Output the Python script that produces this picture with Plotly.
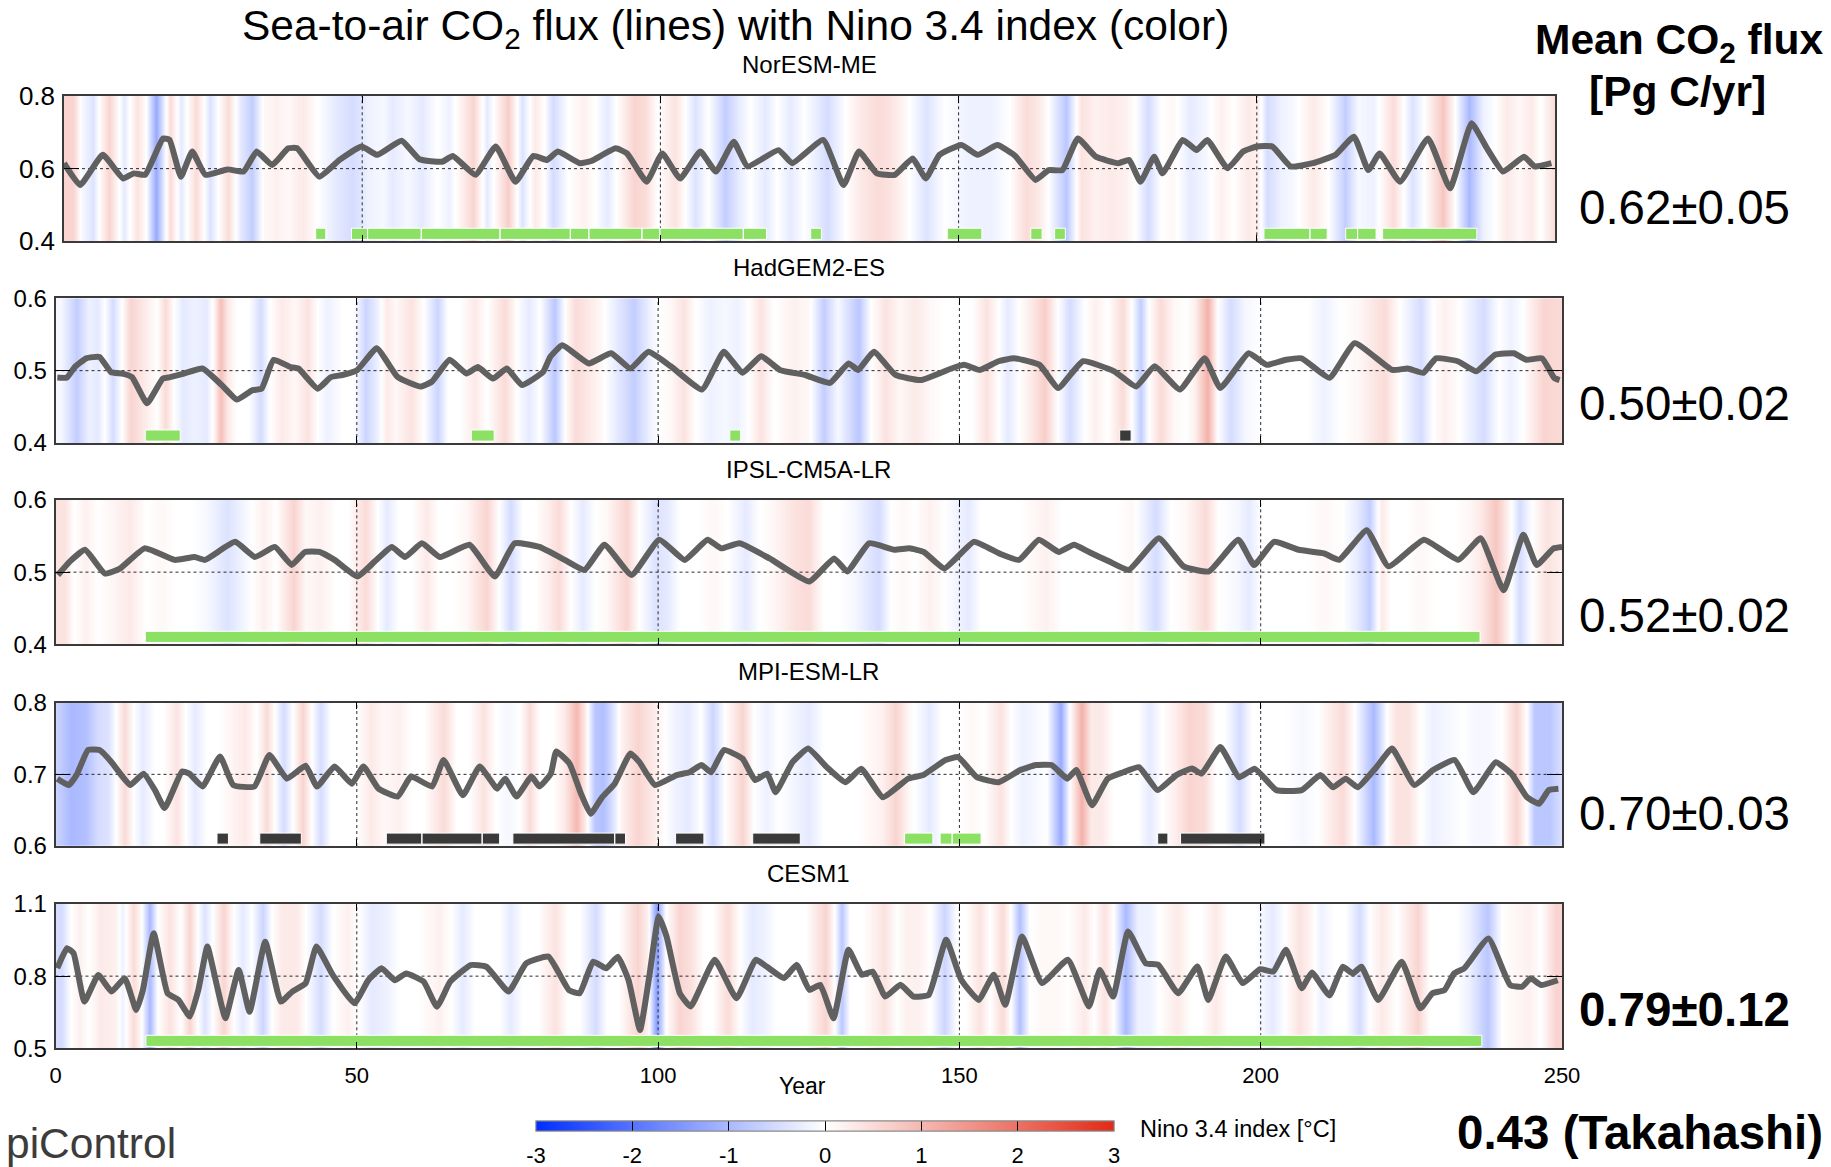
import plotly.graph_objects as go

W, H = 1831, 1167

# ---------------- data ----------------
models = ["NorESM-ME", "HadGEM2-ES", "IPSL-CM5A-LR", "MPI-ESM-LR", "CESM1"]
mean_flux = ["0.62±0.05", "0.50±0.02", "0.52±0.02", "0.70±0.03", "<b>0.79±0.12</b>"]
y_ranges = [(0.4, 0.8), (0.4, 0.6), (0.4, 0.6), (0.6, 0.8), (0.5, 1.1)]
y_ticks = [[0.4, 0.6, 0.8], [0.4, 0.5, 0.6], [0.4, 0.5, 0.6], [0.6, 0.7, 0.8], [0.5, 0.8, 1.1]]
x_ticks = [0, 50, 100, 150, 200, 250]
cbar_ticks = [-3, -2, -1, 0, 1, 2, 3]

# sea-to-air CO2 flux (year, Pg C/yr)
flux_noresm = [(0,0.615),(2.7,0.555),(6.5,0.638),(9.9,0.573),(11.7,0.587),(13.6,0.583),(16.6,0.683),(17.7,0.679),(19.6,0.578),(21.5,0.647),(23.7,0.583),(27.4,0.598),(30.1,0.592),(32.3,0.647),(34.9,0.61),(37.6,0.656),(39.1,0.656),(42.8,0.578),(46.2,0.624),(49.9,0.661),(52.5,0.638),(56.6,0.677),(59.6,0.626),(63.4,0.619),(65.2,0.635),(69.0,0.583),(72.4,0.661),(75.7,0.564),(78.7,0.635),(81.0,0.624),(82.8,0.647),(86.5,0.615),(88.4,0.621),(92.5,0.656),(94.4,0.642),(97.7,0.564),(100.3,0.642),(103.3,0.573),(106.7,0.647),(109.3,0.592),(112.3,0.674),(114.6,0.606),(119.8,0.651),(122.1,0.615),(127.3,0.679),(130.7,0.555),(133.3,0.647),(136.3,0.587),(139.3,0.583),(142.3,0.628),(144.5,0.573),(146.8,0.638),(150.5,0.665),(153.2,0.638),(156.5,0.665),(159.5,0.635),(162.9,0.569),(165.1,0.596),(167.4,0.596),(170.0,0.683),(173.0,0.633),(176.8,0.615),(178.6,0.624),(180.5,0.564),(182.8,0.633),(184.2,0.587),(187.6,0.679),(189.9,0.651),(191.7,0.679),(195.1,0.601),(197.7,0.647),(200.0,0.661),(202.6,0.661),(205.7,0.606),(209.4,0.615),(213.2,0.638),(216.3,0.688),(218.7,0.596),(220.6,0.642),(224.0,0.564),(228.7,0.683),(232.4,0.546),(236.0,0.725),(238.6,0.656),(241.3,0.592),(244.8,0.633),(246.6,0.606),(249.4,0.615)]
flux_hadgem = [(0.3,0.4905),(1.9,0.4905),(3.2,0.505),(5.1,0.517),(7.3,0.519),(9.2,0.498),(11.1,0.496),(12.7,0.491),(15.2,0.455),(17.8,0.489),(19.0,0.491),(21.3,0.496),(24.4,0.503),(27.6,0.48),(30.1,0.46),(32.7,0.473),(34.2,0.475),(36.2,0.515),(39.0,0.505),(40.3,0.503),(43.5,0.475),(45.7,0.491),(47.6,0.494),(50.1,0.501),(53.3,0.531),(56.8,0.491),(60.6,0.478),(62.5,0.485),(65.4,0.515),(68.2,0.496),(70.1,0.505),(72.6,0.489),(74.9,0.503),(77.4,0.48),(80.9,0.498),(82.1,0.519),(84.1,0.535),(88.5,0.51),(92.2,0.524),(95.4,0.503),(98.4,0.526),(102.1,0.506),(107.3,0.474),(110.9,0.526),(114.0,0.497),(117.1,0.52),(120.2,0.501),(124.4,0.494),(128.5,0.483),(131.6,0.51),(133.2,0.501),(135.8,0.526),(139.4,0.494),(143.6,0.487),(148.7,0.503),(150.8,0.508),(153.4,0.501),(156.5,0.513),(159.1,0.517),(163.3,0.508),(166.4,0.476),(170.5,0.513),(175.7,0.499),(179.3,0.478),(182.4,0.506),(186.6,0.474),(190.7,0.517),(193.3,0.476),(198.0,0.524),(201.0,0.508),(204.2,0.515),(206.8,0.517),(211.4,0.49),(215.6,0.538),(221.8,0.501),(224.4,0.503),(227.0,0.497),(229.1,0.517),(232.7,0.513),(235.8,0.499),(238.9,0.522),(242.0,0.524),(244.1,0.515),(246.7,0.517),(248.7,0.49),(249.6,0.487)]
flux_ipsl = [(0.4,0.496),(2.4,0.515),(4.9,0.531),(8.2,0.498),(10.7,0.505),(14.8,0.533),(19.8,0.517),(23.1,0.521),(24.8,0.517),(29.8,0.542),(33.1,0.521),(36.4,0.535),(39.2,0.51),(41.4,0.528),(43.8,0.528),(46.3,0.517),(50.1,0.494),(53.0,0.515),(55.8,0.535),(58.0,0.521),(60.8,0.54),(63.8,0.521),(68.7,0.538),(72.9,0.494),(76.2,0.54),(80.3,0.535),(84.5,0.517),(87.8,0.503),(91.1,0.538),(95.6,0.496),(100.2,0.545),(104.4,0.517),(108.2,0.545),(110.5,0.533),(113.5,0.54),(118.5,0.519),(125.1,0.487),(129.2,0.519),(131.4,0.501),(135.0,0.54),(139.2,0.531),(141.7,0.533),(144.1,0.528),(147.5,0.505),(152.4,0.542),(156.6,0.526),(159.9,0.517),(163.2,0.545),(166.5,0.528),(169.0,0.538),(171.5,0.528),(174.8,0.515),(178.1,0.503),(183.1,0.547),(187.2,0.508),(191.4,0.501),(196.3,0.545),(198.9,0.51),(202.2,0.542),(206.3,0.531),(210.5,0.526),(213.0,0.517),(217.6,0.558),(221.2,0.508),(227.1,0.545),(232.8,0.517),(236.5,0.547),(240.3,0.475),(243.6,0.552),(245.8,0.51),(248.6,0.533),(250,0.535)]
flux_mpi = [(0.3,0.694),(2.2,0.685),(3.5,0.699),(5.4,0.734),(7.3,0.734),(9.2,0.718),(11.1,0.697),(12.4,0.685),(14.6,0.701),(16.5,0.678),(18.1,0.653),(21.0,0.704),(22.2,0.701),(24.4,0.683),(27.3,0.725),(29.5,0.685),(33.0,0.683),(35.5,0.727),(38.4,0.694),(41.5,0.712),(43.4,0.683),(46.3,0.711),(49.2,0.687),(51.1,0.711),(53.6,0.68),(56.8,0.669),(59.0,0.697),(62.5,0.683),(64.4,0.72),(67.6,0.671),(70.4,0.711),(73.3,0.68),(74.6,0.694),(76.5,0.669),(79.0,0.697),(80.3,0.683),(82.2,0.701),(83.1,0.732),(85.3,0.715),(87.2,0.673),(88.8,0.645),(90.7,0.668),(92.8,0.687),(95.4,0.729),(96.9,0.717),(99.5,0.685),(103.1,0.699),(105.2,0.703),(107.2,0.713),(108.8,0.703),(110.9,0.734),(114.0,0.722),(116.1,0.692),(118.1,0.701),(119.5,0.675),(122.3,0.717),(124.9,0.736),(128.0,0.71),(131.1,0.689),(133.7,0.708),(137.3,0.668),(141.5,0.694),(144.0,0.699),(147.7,0.72),(149.8,0.724),(152.9,0.696),(156.5,0.689),(160.1,0.706),(162.7,0.713),(165.3,0.713),(167.9,0.694),(169.4,0.706),(172.0,0.657),(174.6,0.694),(177.2,0.703),(179.8,0.71),(182.9,0.678),(186.0,0.699),(188.6,0.708),(190.2,0.701),(193.3,0.738),(196.4,0.696),(199.0,0.708),(202.6,0.678),(206.8,0.678),(209.9,0.699),(212.0,0.682),(214.1,0.694),(216.1,0.682),(219.2,0.71),(221.8,0.736),(225.5,0.685),(228.6,0.706),(232.2,0.72),(235.3,0.675),(239.0,0.717),(241.6,0.701),(244.2,0.668),(246.2,0.659),(247.8,0.678),(249.4,0.68)]
flux_cesm = [(0.3,0.833),(1.9,0.916),(3.0,0.895),(4.8,0.694),(7.1,0.805),(9.3,0.736),(11.5,0.791),(13.4,0.659),(14.5,0.742),(16.3,0.978),(18.6,0.729),(20.4,0.701),(22.3,0.632),(23.7,0.742),(25.2,0.923),(26.7,0.77),(28.2,0.625),(30.4,0.826),(32.2,0.652),(34.8,0.943),(37.4,0.694),(39.3,0.736),(41.5,0.77),(43.3,0.923),(46.0,0.805),(49.6,0.687),(51.9,0.783),(54.1,0.833),(56.3,0.783),(58.2,0.811),(61.1,0.777),(63.3,0.673),(65.5,0.777),(68.9,0.846),(71.5,0.839),(75.2,0.736),(78.1,0.853),(81.8,0.881),(85.2,0.742),(87.0,0.729),(89.2,0.86),(91.4,0.833),(93.3,0.881),(95.1,0.783),(97.0,0.576),(98.6,0.81),(100.1,1.048),(101.4,0.965),(103.6,0.729),(105.4,0.674),(109.4,0.868),(113.0,0.708),(116.2,0.868),(118.0,0.84),(120.9,0.792),(123.0,0.847),(125.1,0.743),(126.9,0.764),(129.1,0.625),(131.6,0.91),(133.8,0.806),(135.6,0.819),(137.7,0.715),(140.2,0.764),(142.4,0.715),(144.9,0.722),(147.8,0.951),(150.3,0.785),(153.2,0.701),(155.7,0.806),(157.6,0.681),(160.4,0.965),(163.7,0.771),(168.0,0.868),(171.5,0.674),(173.3,0.826),(175.5,0.715),(178.0,0.986),(180.9,0.854),(183.0,0.847),(186.3,0.729),(189.5,0.84),(191.3,0.701),(194.2,0.882),(197.0,0.771),(199.9,0.829),(202.1,0.819),(204.2,0.91),(206.8,0.75),(208.5,0.815),(211.4,0.72),(213.6,0.839),(215.3,0.811),(216.7,0.839),(219.5,0.701),(223.4,0.86),(226.5,0.666),(228.5,0.729),(230.5,0.742),(232.1,0.811),(233.8,0.833),(237.8,0.957),(241.4,0.763),(243.4,0.756),(244.8,0.791),(246.5,0.763),(249.3,0.783)]

# Nino 3.4 index (year, degC)
nino_noresm = [(0,0.6),(1.5,0.6),(3,-0.1),(4.8,-0.4),(6,0.1),(7.5,0.6),(10,-0.3),(12.3,0.4),(13.7,0),(15.5,-1.2),(17.8,0.5),(19.7,-0.3),(22.2,0.5),(24.5,-0.4),(27.5,0.5),(29.5,-0.3),(31.5,-0.7),(33.5,0.1),(35.5,0.2),(37.5,0.1),(40,0.3),(42.5,0),(45.5,-0.3),(48.5,-0.5),(51,-0.2),(53.5,-0.1),(55,-0.3),(57.5,-0.1),(60,-0.3),(62.5,0),(64.5,-0.2),(66,0.1),(68.5,0.6),(71,-0.3),(74.5,0.7),(76.8,-0.4),(79,0.3),(80.5,0),(82,-0.5),(84.5,0),(87,0.2),(89,0),(91,-0.3),(93,0.1),(95.5,0.6),(97.5,0.5),(99.5,0),(102.5,0.4),(105.8,-0.4),(108,0),(110.8,-0.7),(113,-0.3),(115,0),(117.5,-0.3),(119.5,0),(121.7,-0.3),(124,0),(128,-0.5),(131,0),(133.5,0.3),(136.3,0.5),(138.5,0.4),(141,0.1),(144.5,-0.4),(147.5,0),(151.5,-0.2),(155.5,-0.2),(158.5,0),(161.3,0.5),(163.5,0.3),(165,0),(168,-0.8),(170.5,0.4),(173,0.2),(175.5,0.3),(178,0.2),(179.5,0),(181.8,-0.5),(184,0),(186,0.1),(188.8,-0.3),(191.5,-0.1),(194,0.2),(196,0),(198.5,0.3),(200.2,0.2),(201.7,-0.5),(204,-0.2),(206,-0.1),(209.5,0.3),(212,0),(214.8,-0.7),(217,-0.1),(219.5,-0.2),(222.8,0.5),(226,-0.4),(228,0),(231.2,0.8),(233.3,0),(235.5,-1.0),(238,-0.2),(240,0),(242,0.3),(244,0.1),(246,0.3),(247.5,0),(250,0.5)]
nino_hadgem = [(0,-0.1),(0.8,-0.1),(3.5,-0.7),(5.5,-0.2),(7,-0.3),(8.2,0),(9.5,-0.5),(11,0),(12.4,0.6),(14,0.4),(15.5,0.2),(16.8,0),(18.3,0.5),(19.6,0),(21,-0.3),(23,-0.2),(25,-0.3),(26.3,0.1),(27.3,0.9),(28.6,0.3),(30,0),(32,0),(34,-0.5),(35.5,0),(37.5,0.3),(39.6,0.1),(41.8,0.4),(43.5,0),(45,-0.2),(47.5,0),(49.5,0),(51.5,-0.6),(53.5,-0.2),(55,0.3),(56.5,0.1),(59,0.4),(61,0),(63.4,-0.6),(65,0),(67,0),(69.5,0.3),(71.5,0),(74.5,0.5),(76.5,0),(78.5,-0.3),(80.3,0),(82.8,-0.8),(84.5,0),(86.3,0.5),(88.5,0.3),(90.5,0.1),(92.5,-0.2),(95.9,-0.7),(98.5,-0.2),(100,0),(102,0.1),(104.2,0.4),(106.2,0),(108.5,-0.2),(111,-0.1),(113,-0.2),(115,0),(117,0.4),(119.2,0),(122.5,0.2),(125,0.1),(127.5,-0.7),(129.7,-0.1),(133.2,-0.8),(135.2,0),(137.8,0.4),(140,0.1),(142.5,0.3),(145,0.1),(147.5,0),(150,0),(152,0),(154.5,0.4),(156.5,0),(158,-0.3),(159.8,0),(162,0.3),(164.2,0.7),(166.2,0),(168.3,-0.5),(170.7,0),(172.5,0.2),(174.5,0),(177,0.5),(178.6,0),(180,-0.7),(181.3,0),(183.4,0.5),(185.5,0.1),(187.5,0),(189,0.2),(191.1,1.1),(192.8,0),(195,-0.5),(197.5,-0.1),(200,0),(204,0),(208,0),(210.5,-0.2),(213,0),(216,0.1),(220.5,0.5),(223,0),(226.5,-0.5),(228.5,0),(230.5,0.2),(233,0),(237,-0.5),(239.5,0),(241.5,-0.2),(243.5,0),(247,0.6),(250,0.5)]
nino_ipsl = [(0,0.4),(1.5,0.4),(3,0),(5,0.2),(7,0),(9,0.1),(12.3,0.3),(15,0),(17.5,0.1),(20,0),(22.5,0),(25,-0.1),(28.5,-0.4),(30.5,-0.2),(32.5,0),(34.5,0.2),(36.5,0),(39.5,0.6),(41.5,0.1),(44,0.2),(46.5,0),(48.5,0),(51.5,0.5),(53.5,0),(55,-0.3),(57,0),(59,0),(61.5,0.3),(63.5,0),(66,0),(68,0.1),(71.5,0.6),(73.2,0.1),(75.5,-0.5),(77.5,0),(79.5,0),(81.5,0.2),(83.5,0.5),(85.5,0),(87.5,-0.3),(89.5,0),(91.5,0.1),(94.8,0.6),(96.8,0),(99.5,-0.4),(101.5,-0.3),(103.5,0),(106.5,0),(109,0.1),(111.5,0),(114.5,-0.3),(116.8,0),(119,0.1),(122.5,0.4),(125,0.5),(127.5,0),(130,0),(132.5,-0.1),(136.5,-0.5),(138.5,0),(140.5,0.1),(142.5,0),(145,0.2),(147.5,0),(151.5,-0.3),(153.5,0),(157,0),(160,0),(164.5,0.2),(167,0),(170,0),(173,0),(176,0),(178.5,0.1),(182.5,-0.5),(185,0),(187.5,0.1),(190.8,0.5),(193,0),(196,-0.1),(198,-0.3),(200,0),(204,0),(207.5,0),(210.5,0.1),(213.5,0),(216,-0.3),(218,-0.7),(220,0.3),(221.5,0),(224,0),(226.5,0.1),(229,0),(232,0),(234.5,0.1),(236.5,0.3),(239,0.8),(241,0.2),(243,-0.5),(245,0),(247.5,0.4),(250,0.2)]
nino_mpi = [(0,-0.6),(2.5,-1.0),(5,-0.9),(7,-0.5),(8.8,-0.4),(10,0),(11.5,0.5),(13,0),(14.5,-0.3),(16.5,0),(18,0),(20,0.4),(21.5,0),(23,-0.3),(25,0),(27,0),(28.5,0.1),(31.5,0.3),(33.3,0),(35,0.5),(36.3,0),(37.8,-0.5),(39.3,0),(41,0.6),(42.5,0),(44,-0.5),(45.6,0),(48,0),(50,0),(52.3,0.3),(54.5,0.1),(57,0.2),(59,0),(61,0),(64.4,0.5),(66.5,0),(68.5,0),(71,0.4),(73,0),(75,-0.1),(77,0),(78.6,0.5),(80.3,0),(82.5,0),(84.5,0.3),(86.5,1.0),(88,0.2),(89.5,-0.8),(91,-0.9),(92.8,-0.3),(94,0.2),(96.5,0.6),(99,0.3),(101,0),(103,-0.2),(105,-0.3),(107,0),(109,-0.6),(111,0),(114,0.6),(115.8,0),(118,-0.2),(120,0),(122,-0.1),(125,-0.3),(127.5,0),(129,0),(131,0),(133,0),(135,0.1),(137,0.2),(139.4,0.6),(141.5,0.1),(145,-0.3),(147,0),(150,0),(152,0.1),(154,0),(156.8,0.4),(158.5,0),(160.5,-0.2),(162.5,-0.1),(164.5,0),(166.8,-1.2),(168.3,0),(170.2,1.1),(171.8,0.3),(173.5,0.3),(175.5,0),(177.5,0),(179.5,0),(181.5,-0.3),(183.5,0),(185.5,0.2),(188,0.6),(190.5,0.5),(192.5,0),(194,0),(196.5,-0.5),(198.5,0),(201,0),(204,0),(207,-0.1),(209.5,0),(211,0.2),(213.5,0.5),(215.5,0),(218.7,-1.0),(220.8,0),(222.5,0.4),(224.5,0.4),(226.5,0),(228.5,-0.2),(231,-0.1),(233.5,0),(235.5,-0.1),(238,-0.1),(240,0),(242.4,0.6),(244.1,0),(245.5,-0.8),(248,-0.8),(250,-0.4)]
nino_cesm = [(0,-0.5),(1,-0.5),(2.5,0),(4,0.2),(5.5,0),(7.5,0.3),(10,0.2),(11.2,-0.2),(13,0.5),(14.2,0),(15.6,-1.0),(17,0),(18.9,0.4),(20.7,0),(22.2,0.6),(23.6,0),(24.8,-0.4),(26,0),(27.8,0.6),(29.6,0),(31,-0.3),(32.5,0),(34.4,-0.6),(35.8,0),(37.5,0.3),(40,0.3),(41.5,0),(44,-0.5),(46,0),(48.5,0.2),(50.3,0),(52.5,-0.3),(55,-0.2),(57,0),(60,0),(63.7,0.2),(65.5,0),(67.5,-0.3),(69.5,0),(71.5,0),(73.5,0),(75.5,-0.3),(77.5,0),(80,0),(82.9,0.4),(85,0),(87,0),(89.6,-0.5),(91.5,0),(93.5,0),(96.5,0.6),(98.2,0.2),(99.8,-1.4),(101.3,0),(103.5,0.6),(105.5,0.4),(107.5,0),(109,0),(111.5,0.5),(113.5,0),(115.5,-0.3),(117.5,-0.2),(119.5,0),(122,0),(124.5,0),(127.8,0.6),(129.3,0),(130.4,-0.8),(131.8,0),(134,0),(137.6,0.4),(139.5,0),(141,0.2),(143,0.2),(145.2,0),(147.5,-0.6),(149.5,0),(151,0),(153.3,0.4),(155,0),(157.2,0.5),(158.5,0),(160,-0.9),(161.6,0),(164,0.1),(166,0.1),(168,0),(170.8,0.3),(172.3,0),(174,0.4),(175.5,0),(177.5,-1.0),(179.5,-0.2),(181.5,-0.2),(183,0),(186.2,0.3),(188.3,0),(190,0),(192.5,0.3),(194.5,0),(197,0),(199,0),(202,-0.3),(204,0),(206.4,0.4),(208,0.2),(210,-0.2),(212,0),(214,0),(216.4,-0.5),(218,0),(220,0.3),(222.5,0),(226,0.6),(228,0),(230,0),(232.5,0),(234.5,-0.2),(237.7,-0.8),(240,0),(242,0.1),(244.5,0.2),(246.5,0),(249,0.6),(250,0.6)]

# significant-correlation periods (start year, end year)
green_noresm = [(42.2,43.9),(48.2,50.9),(50.9,59.9),(59.9,73.1),(73.1,84.9),(84.9,88.0),(88.0,96.9),(96.9,99.9),(99.9,113.9),(113.9,117.8),(125.2,127.0),(148.1,153.9),(162.1,164.0),(166.1,167.9),(201.2,208.9),(208.9,211.8),(214.9,216.9),(216.9,220.0),(221.1,236.9)]
black_noresm = []
green_hadgem = [(14.9,20.7),(69.0,72.8),(111.9,113.7)]
black_hadgem = [(176.6,178.5)]
green_ipsl = [(14.9,236.4)]
black_ipsl = []
green_mpi = [(140.9,145.6),(146.8,148.8),(148.8,153.6)]
black_mpi = [(26.8,28.7),(33.9,40.8),(54.9,60.8),(60.8,70.8),(70.8,73.7),(75.9,92.8),(92.8,94.6),(102.9,107.6),(115.7,123.6),(182.9,184.6),(186.7,200.7)]
green_cesm = [(15.0,236.7)]
black_cesm = []

flux_all = [flux_noresm, flux_hadgem, flux_ipsl, flux_mpi, flux_cesm]
nino_all = [nino_noresm, nino_hadgem, nino_ipsl, nino_mpi, nino_cesm]
green_all = [green_noresm, green_hadgem, green_ipsl, green_mpi, green_cesm]
black_all = [black_noresm, black_hadgem, black_ipsl, black_mpi, black_cesm]

# ---------------- style / layout ----------------
FONT = "Liberation Sans, Arial, Helvetica, sans-serif"
panel_px = [(64, 1555, 96, 241.3), (55.5, 1562, 298.3, 443), (55.5, 1562, 500, 644.3),
            (55.5, 1562, 702.7, 846), (55.5, 1562, 904, 1048.3)]
ytick_font = [26, 24, 24, 24, 24]
colorscale = [[0.0, "rgb(0,45,255)"], [0.5, "rgb(255,255,255)"], [1.0, "rgb(226,42,22)"]]
LINE_COLOR = "rgb(96,96,96)"
GREEN = "rgb(140,224,100)"
BLACK_BAR = "rgb(58,58,58)"


def fx(px):
    return px / W


def fy(py):
    return 1 - py / H


fig = go.Figure()
layout = dict(width=W, height=H, margin=dict(l=0, r=0, t=0, b=0, pad=0, autoexpand=False),
              paper_bgcolor="white", plot_bgcolor="white", showlegend=False,
              font=dict(family=FONT, color="black"))
annotations = []

cb_common = dict(orientation="h", x=fx(825), xanchor="center", y=fy(1121), yanchor="top",
                 lenmode="pixels", len=578, thicknessmode="pixels", thickness=10, xpad=0, ypad=0,
                 outlinewidth=1, outlinecolor="#8a8a8a", tickmode="array", tickvals=cbar_ticks,
                 ticktext=[str(v) for v in cbar_ticks])

for i in range(5):
    n = "" if i == 0 else str(i + 1)
    xa, ya = "x" + n, "y" + n
    lo, hi = y_ranges[i]
    x0, x1, ytop, ybot = panel_px[i]

    # Nino 3.4 background
    nyrs = [p[0] for p in nino_all[i]]
    nval = [p[1] for p in nino_all[i]]
    hm = dict(x=nyrs, y=[lo, hi], z=[nval, nval], colorscale=colorscale, zmin=-3, zmax=3,
              zsmooth="best", xaxis=xa, yaxis=ya, hoverinfo="skip", showscale=False)
    if i == 0:
        hm["showscale"] = True
        hm["colorbar"] = dict(cb_common, ticks="outside", ticklen=6, tickcolor="rgba(0,0,0,0)",
                              tickfont=dict(size=22, family=FONT, color="black"))
    elif i == 1:
        hm["showscale"] = True
        hm["colorbar"] = dict(cb_common, ticks="inside", ticklen=10, tickcolor="black",
                              tickwidth=1, showticklabels=False)
    fig.add_trace(go.Heatmap(**hm))

    # dotted grid lines at inner ticks
    gx, gy = [], []
    for t in x_ticks[1:-1]:
        gx += [t, t, None]
        gy += [lo, hi, None]
    for t in y_ticks[i][1:-1]:
        gx += [x_ticks[0], x_ticks[-1], None]
        gy += [t, t, None]
    fig.add_trace(go.Scatter(x=gx, y=gy, mode="lines", xaxis=xa, yaxis=ya,
                             line=dict(color="#2a2a2a", width=1, dash="dot"), hoverinfo="skip"))

    # significance bars
    b = lo + 0.013 * (hi - lo)
    t = lo + 0.09 * (hi - lo)
    for segs, col in ((green_all[i], GREEN), (black_all[i], BLACK_BAR)):
        if not segs:
            continue
        bx, by = [], []
        for s, e in segs:
            bx += [s, e, e, s, s, None]
            by += [b, b, t, t, b, None]
        fig.add_trace(go.Scatter(x=bx, y=by, mode="lines", fill="toself", fillcolor=col,
                                 line=dict(color="white", width=1), xaxis=xa, yaxis=ya,
                                 hoverinfo="skip"))

    # CO2 flux line
    fig.add_trace(go.Scatter(x=[p[0] for p in flux_all[i]], y=[p[1] for p in flux_all[i]],
                             mode="lines",
                             line=dict(color=LINE_COLOR, width=6, shape="spline", smoothing=0.4),
                             xaxis=xa, yaxis=ya, hoverinfo="skip"))

    layout["xaxis" + n] = dict(domain=[fx(x0), fx(x1)], range=[0, 250], anchor=ya, automargin=False,
                               tickmode="array", tickvals=x_ticks, ticks="inside", ticklen=7,
                               tickcolor="black", tickwidth=1.2, showline=True, mirror="ticks",
                               linecolor="#3a3a3a", linewidth=1.5, showgrid=False, zeroline=False,
                               showticklabels=(i == 4), ticklabelstandoff=7,
                               tickfont=dict(size=22, family=FONT, color="black"))
    layout["yaxis" + n] = dict(domain=[fy(ybot), fy(ytop)], range=[lo, hi], anchor=xa, automargin=False,
                               tickmode="array", tickvals=y_ticks[i],
                               ticktext=[("%.1f" % v) for v in y_ticks[i]],
                               ticks="inside", ticklen=15, tickcolor="black", tickwidth=1.2,
                               showline=True, mirror="ticks", linecolor="#3a3a3a", linewidth=1.5,
                               showgrid=False, zeroline=False, ticklabelstandoff=2,
                               tickfont=dict(size=ytick_font[i], family=FONT, color="black"))

    # model name
    annotations.append(dict(text=models[i], x=fx((x0 + x1) / 2), y=fy(ytop - 31), xref="paper", yref="paper",
                            xanchor="center", yanchor="middle", showarrow=False,
                            font=dict(size=24, family=FONT, color="black")))

# right-hand mean flux values
val_y = [207.5, 404, 615, 813, 1009.5]
for i in range(5):
    annotations.append(dict(text=mean_flux[i], x=fx(1577), y=fy(val_y[i]), xref="paper", yref="paper",
                            xanchor="left", yanchor="middle", showarrow=False,
                            font=dict(size=47.5, family=FONT, color="black")))

annotations += [
    dict(text="Sea-to-air CO<sub>2</sub> flux (lines) with Nino 3.4 index (color)", x=fx(735), y=fy(28),
         xref="paper", yref="paper", xanchor="center", yanchor="middle", showarrow=False,
         font=dict(size=42.5, family=FONT, color="black")),
    dict(text="<b>Mean CO<sub>2</sub> flux</b>", x=fx(1679), y=fy(43), xref="paper", yref="paper",
         xanchor="center", yanchor="middle", showarrow=False, font=dict(size=42.5, family=FONT, color="black")),
    dict(text="<b>[Pg C/yr]</b>", x=fx(1677), y=fy(91), xref="paper", yref="paper",
         xanchor="center", yanchor="middle", showarrow=False, font=dict(size=42.5, family=FONT, color="black")),
    dict(text="<b>0.43 (Takahashi)</b>", x=fx(1455), y=fy(1132), xref="paper", yref="paper",
         xanchor="left", yanchor="middle", showarrow=False, font=dict(size=47.5, family=FONT, color="black")),
    dict(text="piControl", x=fx(4), y=fy(1143), xref="paper", yref="paper",
         xanchor="left", yanchor="middle", showarrow=False, font=dict(size=42.5, family=FONT, color="#3c3c3c")),
    dict(text="Year", x=fx(802), y=fy(1086), xref="paper", yref="paper",
         xanchor="center", yanchor="middle", showarrow=False, font=dict(size=23, family=FONT, color="black")),
    dict(text="Nino 3.4 index [°C]", x=fx(1138), y=fy(1129), xref="paper", yref="paper",
         xanchor="left", yanchor="middle", showarrow=False, font=dict(size=23.5, family=FONT, color="black")),
]
layout["annotations"] = annotations
fig.update_layout(**layout)
fig.write_html("out.html")
